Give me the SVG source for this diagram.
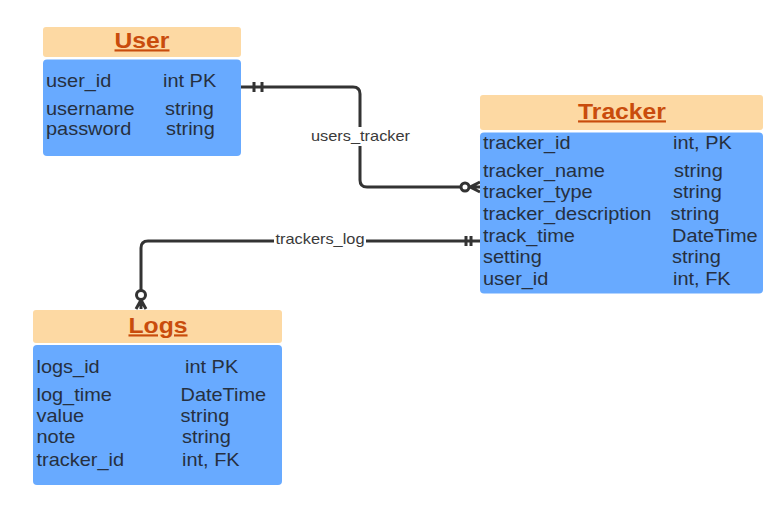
<svg xmlns="http://www.w3.org/2000/svg" width="781" height="507" viewBox="0 0 781 507">
<style>
.hdr{fill:#fdd9a3;}
.body{fill:#68aaff;}
.title{font-family:"Liberation Sans",Arial,sans-serif;font-weight:bold;font-size:21.5px;fill:#c94c0c;text-anchor:middle;text-decoration:underline;}
.f{font-family:"Liberation Sans",Arial,sans-serif;font-size:17.5px;fill:#263040;}
.lbl{font-family:"Liberation Sans",Arial,sans-serif;font-size:14px;fill:#3a3a3a;text-anchor:middle;}
.ln{fill:none;stroke:#333333;stroke-width:3;stroke-linecap:butt;stroke-linejoin:round;}
.mk{fill:none;stroke:#333333;stroke-width:3;}
.circ{fill:#ffffff;stroke:#333333;stroke-width:3;}
</style>
<rect width="781" height="507" fill="#ffffff"/>

<g id="connectors">
  <g id="users_tracker">
    <path class="ln" d="M241,87 H353 Q360,87 360,94 V180 Q360,187 367,187 H461"/>
    <path class="mk" d="M254,82 V92 M262,82 V92"/>
    <circle class="circ" cx="465" cy="187" r="4"/>
    <path class="mk" d="M470,187 L480,182 M470,187 H480 M470,187 L480,192"/>
    <rect x="312" y="127" width="98" height="19" fill="#ffffff"/>
    <text class="lbl" transform="translate(360.5,141) scale(1.17,1)">users_tracker</text>
  </g>
  <g id="trackers_log">
    <path class="ln" d="M480,241 H148 Q141,241 141,248 V291"/>
    <path class="mk" d="M466,236 V246 M471,236 V246"/>
    <circle class="circ" cx="141" cy="295" r="4.5"/>
    <path class="mk" d="M141,300 L136,309 M141,300 V309 M141,300 L146,309"/>
    <rect x="274" y="232" width="92" height="17" fill="#ffffff"/>
    <text class="lbl" transform="translate(320,244) scale(1.17,1)">trackers_log</text>
  </g>
</g>

<g id="User">
  <rect class="hdr" x="43" y="27" width="198" height="30" rx="3"/>
  <rect class="body" x="43" y="59.5" width="198" height="96.5" rx="4"/>
  <text class="title" transform="translate(142,47.5) scale(1.15,1)">User</text>
  <text class="f" transform="translate(46,86.5) scale(1.14,1)">user_id</text>
  <text class="f" transform="translate(163,86.5) scale(1.14,1)">int PK</text>
  <text class="f" transform="translate(46,115) scale(1.14,1)">username</text>
  <text class="f" transform="translate(165,115) scale(1.14,1)">string</text>
  <text class="f" transform="translate(46,135) scale(1.14,1)">password</text>
  <text class="f" transform="translate(166,135) scale(1.14,1)">string</text>
</g>

<g id="Tracker">
  <rect class="hdr" x="480" y="95" width="283" height="35" rx="3"/>
  <rect class="body" x="480" y="132.5" width="283" height="161" rx="4"/>
  <text class="title" transform="translate(622,118.5) scale(1.15,1)">Tracker</text>
  <text class="f" transform="translate(483,149) scale(1.14,1)">tracker_id</text>
  <text class="f" transform="translate(673,149) scale(1.14,1)">int, PK</text>
  <text class="f" transform="translate(483,177) scale(1.14,1)">tracker_name</text>
  <text class="f" transform="translate(674,177) scale(1.14,1)">string</text>
  <text class="f" transform="translate(483,198) scale(1.14,1)">tracker_type</text>
  <text class="f" transform="translate(673,198) scale(1.14,1)">string</text>
  <text class="f" transform="translate(483,220) scale(1.14,1)">tracker_description</text>
  <text class="f" transform="translate(670.5,220) scale(1.14,1)">string</text>
  <text class="f" transform="translate(483,241.5) scale(1.14,1)">track_time</text>
  <text class="f" transform="translate(672,241.5) scale(1.14,1)">DateTime</text>
  <text class="f" transform="translate(483,263) scale(1.14,1)">setting</text>
  <text class="f" transform="translate(672,263) scale(1.14,1)">string</text>
  <text class="f" transform="translate(483,285) scale(1.14,1)">user_id</text>
  <text class="f" transform="translate(673,285) scale(1.14,1)">int, FK</text>
</g>

<g id="Logs">
  <rect class="hdr" x="33" y="310" width="249" height="33" rx="3"/>
  <rect class="body" x="33" y="345" width="249" height="140" rx="4"/>
  <text class="title" transform="translate(158,332.5) scale(1.15,1)">Logs</text>
  <text class="f" transform="translate(36.5,372.5) scale(1.14,1)">logs_id</text>
  <text class="f" transform="translate(185,372.5) scale(1.14,1)">int PK</text>
  <text class="f" transform="translate(36.5,400.5) scale(1.14,1)">log_time</text>
  <text class="f" transform="translate(180.5,400.5) scale(1.14,1)">DateTime</text>
  <text class="f" transform="translate(36.5,421.5) scale(1.14,1)">value</text>
  <text class="f" transform="translate(180.5,421.5) scale(1.14,1)">string</text>
  <text class="f" transform="translate(36.5,443) scale(1.14,1)">note</text>
  <text class="f" transform="translate(182,443) scale(1.14,1)">string</text>
  <text class="f" transform="translate(36.5,465.5) scale(1.14,1)">tracker_id</text>
  <text class="f" transform="translate(182,465.5) scale(1.14,1)">int, FK</text>
</g>
</svg>
